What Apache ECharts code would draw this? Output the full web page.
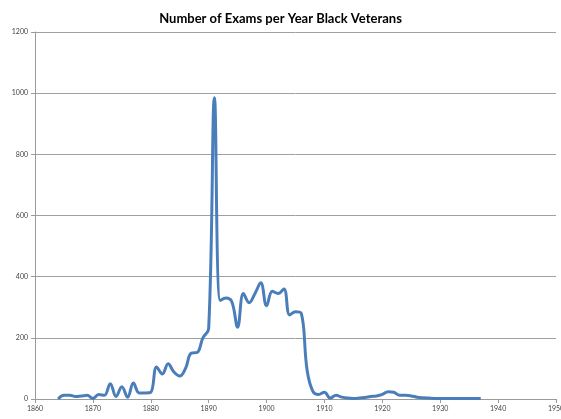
<!DOCTYPE html>
<html>
<head>
<meta charset="utf-8">
<script src="https://cdn.jsdelivr.net/npm/echarts@6/dist/echarts.min.js"></script>
<style>
  html, body { margin:0; padding:0; background:#fff; }
  #main { width:561px; height:419px; }
</style>
</head>
<body>
<div id="main"></div>
<script>
// years of exams (x) and number of exams (y)
var years = [1864,1865,1866,1867,1868,1869,1870,1871,1872,1873,1874,1875,1876,1877,1878,1879,
             1880,1881,1882,1883,1884,1885,1886,1887,1888,1889,1890,1891,1892,1893,1894,1895,
             1896,1897,1898,1899,1900,1901,1902,1903,1904,1905,1906,1907,1908,1909,1910,1911,
             1912,1913,1914,1915,1916,1917,1918,1919,1920,1921,1922,1923,1924,1925,1926,1927,
             1928,1929,1930,1931,1932,1933,1934,1935,1936,1937];
var exams = [0,12,12,8,10,12,2,15,12,50,8,40,6,52,20,20,
             22,105,82,115,88,75,100,150,152,200,230,985,322,330,318,235,
             345,315,345,380,305,352,345,360,275,285,280,95,25,15,22,3,
             12,6,3,2,3,5,8,10,15,24,22,12,12,10,6,4,
             3,2,2,2,2,2,2,2,2,2];
var yTicks = [0,200,400,600,800,1000,1200];

var points = [];
for (var i = 0; i < years.length; i++) {
    points.push([years[i], exams[i]]);
}

var myChart = echarts.init(document.getElementById('main'));
var option = {
    animation: false,
    backgroundColor: '#fff',
    title: {
        text: 'Number of Exams per Year Black Veterans',
        left: 'center',
        top: 7,
        textStyle: {
            fontSize: 13,
            fontWeight: 'bold',
            color: '#000',
            fontFamily: 'Lato'
        }
    },
    grid: {
        left: 35,
        right: 5,
        top: 32,
        bottom: 20,
        containLabel: false,
        outerBoundsMode: 'none'
    },
    xAxis: {
        type: 'value',
        min: 1860,
        max: 1950,
        interval: 10,
        splitLine: { show: false },
        axisLine: { lineStyle: { color: '#9a9a9a', width: 1 } },
        axisTick: { show: true, length: 4, lineStyle: { color: '#9a9a9a' } },
        axisLabel: {
            color: '#444',
            fontSize: 7,
            fontFamily: 'Lato',
            margin: 6,
            showMaxLabel: true,
            hideOverlap: false,
            formatter: function (v) { return String(v); }
        }
    },
    yAxis: {
        type: 'value',
        min: yTicks[0],
        max: yTicks[yTicks.length - 1],
        interval: 200,
        axisLine: { show: true, lineStyle: { color: '#9a9a9a', width: 1 } },
        axisTick: { show: true, length: 4, lineStyle: { color: '#9a9a9a' } },
        splitLine: { lineStyle: { color: '#a0a0a0', width: 1 } },
        axisLabel: {
            color: '#444',
            fontSize: 7,
            fontFamily: 'Lato',
            margin: 7,
            formatter: function (v) { return String(v); }
        }
    },
    series: [
        {
            type: 'line',
            data: points,
            smooth: 0.4,
            showSymbol: false,
            lineStyle: { color: '#4a7ebb', width: 3 }
        }
    ]
};
myChart.setOption(option);
</script>
</body>
</html>
